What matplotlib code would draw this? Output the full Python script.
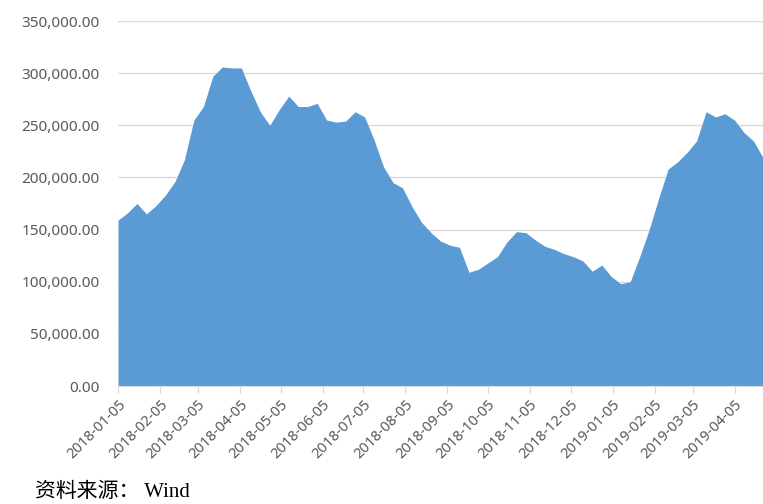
import numpy as np
import pandas as pd
import matplotlib
matplotlib.use("Agg")
import matplotlib.pyplot as plt
import matplotlib.dates as mdates
from matplotlib.ticker import FuncFormatter

# weekly observations, starting 2018-01-05
start_date = "2018-01-05"
values = [159000, 166000, 175000, 165000, 173000, 183000, 196000, 217000,
          255000, 268000, 297000, 306000, 305000, 305000, 283000, 263000,
          250000, 265000, 278000, 268000, 268000, 271000, 255000, 253000,
          254000, 263000, 258000, 236000, 210000, 195000, 190000, 172000,
          157000, 147000, 139000, 135000, 133000, 109000, 112000, 118000,
          124000, 138000, 148000, 147000, 140000, 134000, 131000, 127000,
          124000, 120000, 110000, 116000, 105000, 98000, 100000, 124000,
          150000, 180000, 208000, 215000, 224000, 235000, 263000, 258000,
          261000, 255000, 243000, 235000, 219000]
dates = pd.date_range(start_date, periods=len(values), freq="7D")

tick_labels = ["2018-01-05", "2018-02-05", "2018-03-05", "2018-04-05",
               "2018-05-05", "2018-06-05", "2018-07-05", "2018-08-05",
               "2018-09-05", "2018-10-05", "2018-11-05", "2018-12-05",
               "2019-01-05", "2019-02-05", "2019-03-05", "2019-04-05"]
y_ticks = [0, 50000, 100000, 150000, 200000, 250000, 300000, 350000]

plt.rcParams['font.family'] = ['Noto Sans', 'DejaVu Sans']

fig = plt.figure(figsize=(7.63, 5.04), dpi=100)
ax = fig.add_axes([118/763, 118/504, 1 - 118/763, 365/504])

ax.fill_between(dates, values, 0, color='#5B9BD5', linewidth=0, zorder=2)

ax.set_ylim(0, 350000)
ax.set_xlim(dates[0], dates[-1])
ax.set_yticks(y_ticks)
ax.yaxis.set_major_formatter(FuncFormatter(lambda v, p: "{:,.2f}".format(v)))
ax.grid(axis='y', color='#D9D9D9', linewidth=1, zorder=1)
ax.set_axisbelow(True)

tick_pos = pd.to_datetime(tick_labels)
ax.set_xticks(tick_pos)
ax.set_xticklabels(tick_labels, rotation=45, ha='right', rotation_mode='anchor')

ax.tick_params(axis='y', length=0, labelsize=11, labelcolor='#595959', pad=13)
ax.tick_params(axis='x', length=5, color='#D9D9D9', labelsize=10.5,
               labelcolor='#595959', pad=3)

for s in ['top', 'right', 'left']:
    ax.spines[s].set_visible(False)
ax.spines['bottom'].set_color('#D9D9D9')
ax.spines['bottom'].set_zorder(3)

fig.text(35/763, 1 - 492/504, "资料来源： Wind", fontsize=15,
         family=['Liberation Serif', 'Noto Sans CJK SC'], va='center', color='black')

plt.savefig("out.png", dpi=100)
